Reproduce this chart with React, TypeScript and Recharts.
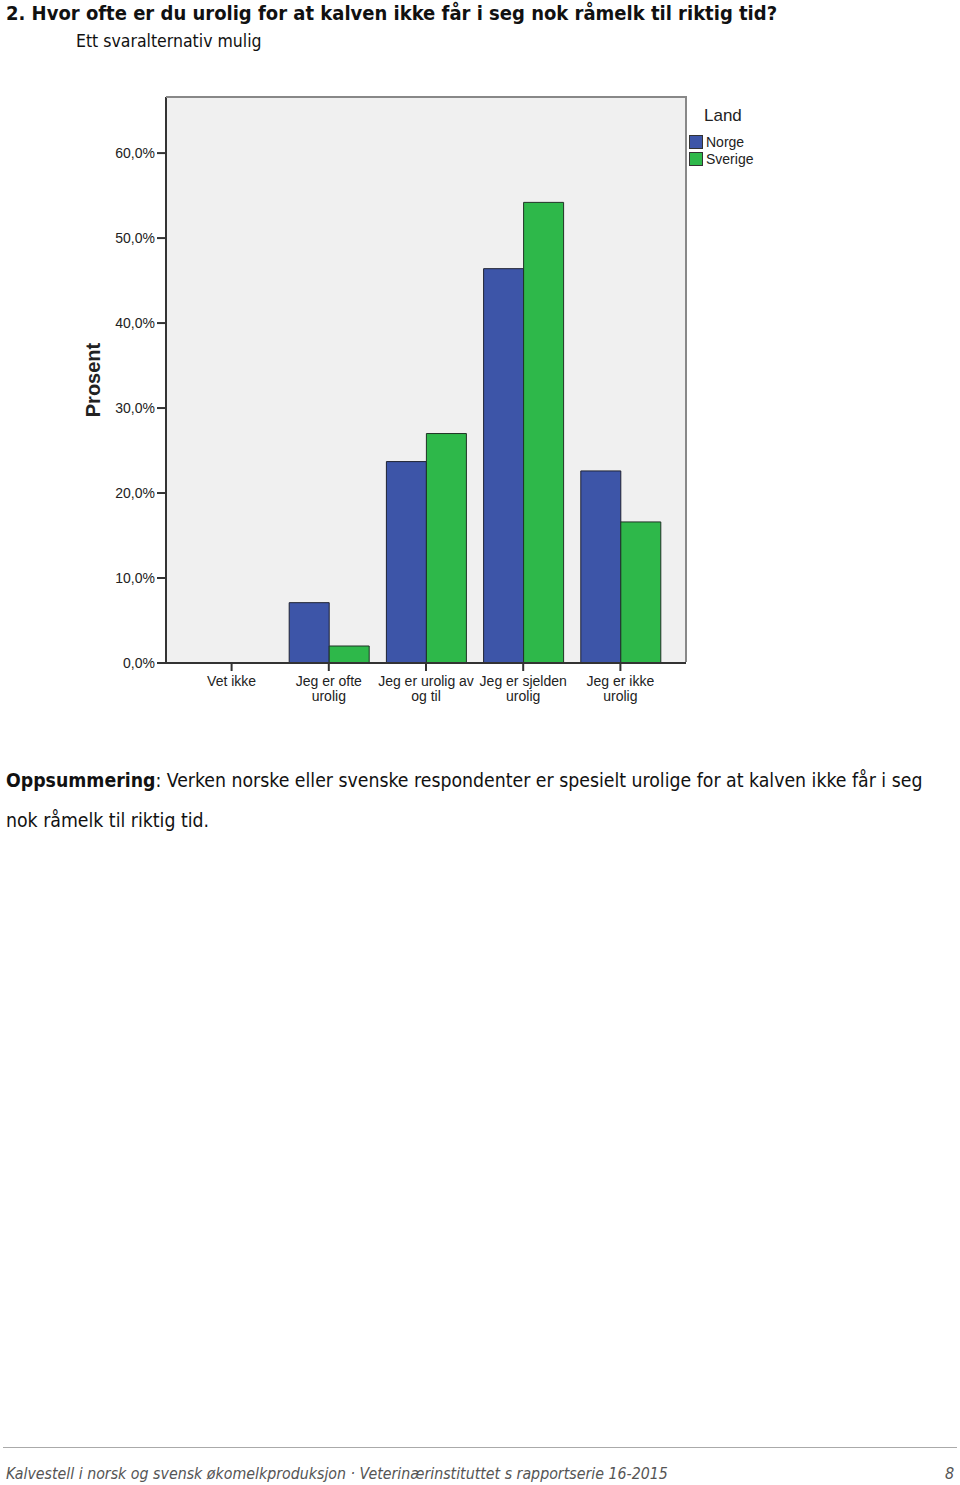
import React from "react";
import { BarChart, Bar, XAxis, YAxis, CartesianGrid } from "recharts";

const categories = [
  "Vet ikke",
  "Jeg er ofte\nurolig",
  "Jeg er urolig av\nog til",
  "Jeg er sjelden\nurolig",
  "Jeg er ikke\nurolig",
];
const norge = [0, 7.1, 23.7, 46.4, 22.6];
const sverige = [0, 2.0, 27.0, 54.2, 16.6];
const yTicks = [0, 10, 20, 30, 40, 50, 60];

const data = categories.map((name, i) => ({
  name,
  Norge: norge[i],
  Sverige: sverige[i],
}));

const docFont = "'DejaVu Sans Condensed', 'DejaVu Sans', sans-serif";
const chartFont = "'Liberation Sans', Arial, sans-serif";

const fmt = (v: number) => `${v.toFixed(1).replace(".", ",")}%`;

function CategoryTick(props: any) {
  const { x, y, payload } = props;
  const lines = String(payload.value).split("\n");
  return (
    <g>
      <line x1={x} x2={x} y1={y - 8} y2={y} stroke="#333" strokeWidth={2} />
      {lines.map((l, i) => (
        <text
          key={i}
          x={x}
          y={y + 15 + i * 15}
          textAnchor="middle"
          fontSize={14}
          fontFamily={chartFont}
          fill="#222"
        >
          {l}
        </text>
      ))}
    </g>
  );
}

function LandLegend() {
  const items = [
    { name: "Norge", color: "#3d55a8" },
    { name: "Sverige", color: "#2eb84a" },
  ];
  return (
    <div style={{ position: "absolute", left: 689, top: 106, fontFamily: chartFont, color: "#222" }}>
      <div style={{ fontSize: 17, marginLeft: 15, height: 27 }}>Land</div>
      {items.map((it) => (
        <div
          key={it.name}
          style={{ display: "flex", alignItems: "center", height: 17, fontSize: 14 }}
        >
          <span
            style={{
              width: 12,
              height: 12,
              background: it.color,
              border: "1px solid #333",
              marginRight: 3,
            }}
          />
          {it.name}
        </div>
      ))}
    </div>
  );
}

export default function App() {
  return (
    <div
      style={{
        position: "absolute",
        left: 0,
        top: 0,
        width: 960,
        height: 1485,
        background: "#fff",
        fontFamily: docFont,
        color: "#111",
      }}
    >
      <div
        style={{
          position: "absolute",
          left: 6,
          top: 1,
          fontSize: 20,
          fontWeight: "bold",
          whiteSpace: "nowrap",
        }}
      >
        2. Hvor ofte er du urolig for at kalven ikke får i seg nok råmelk til riktig tid?
      </div>
      <div style={{ position: "absolute", left: 76, top: 31, fontSize: 17.5, whiteSpace: "nowrap" }}>
        Ett svaralternativ mulig
      </div>

      <div style={{ position: "absolute", left: 0, top: 81 }}>
        <BarChart
          width={780}
          height={640}
          data={data}
          barGap={0}
          barCategoryGap={17}
          margin={{ top: 16, right: 94, left: 0, bottom: 8 }}
        >
          <CartesianGrid fill="#f0f0f0" horizontal={false} vertical={false} />
          <XAxis
            dataKey="name"
            interval={0}
            height={50}
            padding={{ left: 17, right: 17 }}
            axisLine={{ stroke: "#333", strokeWidth: 2 }}
            tickLine={false}
            tick={<CategoryTick />}
          />
          <YAxis
            width={166}
            domain={[0, 66.6]}
            ticks={yTicks}
            tickFormatter={fmt}
            axisLine={{ stroke: "#333", strokeWidth: 2 }}
            tickLine={{ stroke: "#333", strokeWidth: 2 }}
            tickSize={9}
            tick={{ fontSize: 14, fontFamily: chartFont, fill: "#222" }}
            label={{
              value: "Prosent",
              angle: -90,
              position: "insideLeft",
              offset: 93,
              style: { fontSize: 20, fontWeight: "bold", fontFamily: chartFont, fill: "#222", textAnchor: "middle" },
            }}
          />
          <Bar dataKey="Norge" fill="#3d55a8" stroke="#1e2233" strokeWidth={1} barSize={40} isAnimationActive={false} />
          <Bar dataKey="Sverige" fill="#2eb84a" stroke="#1f3325" strokeWidth={1} barSize={40} isAnimationActive={false} />
        </BarChart>
      </div>
      {/* plot frame: top and right edges */}
      <div
        style={{
          position: "absolute",
          left: 166,
          top: 96,
          width: 519,
          height: 564,
          borderTop: "2px solid #888",
          borderRight: "2px solid #888",
          pointerEvents: "none",
        }}
      />
      <LandLegend />

      <div style={{ position: "absolute", left: 6, top: 761, fontSize: 19.3, lineHeight: "40px", whiteSpace: "nowrap" }}>
        <div>
          <b>Oppsummering</b>: Verken norske eller svenske respondenter er spesielt urolige for at kalven ikke får i seg
        </div>
        <div>nok råmelk til riktig tid.</div>
      </div>

      <div style={{ position: "absolute", left: 3, width: 954, top: 1447, borderTop: "1px solid #aaa" }} />
      <div
        style={{
          position: "absolute",
          left: 6,
          top: 1464,
          fontSize: 15.8,
          fontStyle: "italic",
          color: "#555",
          whiteSpace: "nowrap",
        }}
      >
        Kalvestell i norsk og svensk økomelkproduksjon · Veterinærinstituttet s rapportserie 16-2015
      </div>
      <div style={{ position: "absolute", left: 945, top: 1464, fontSize: 16, fontStyle: "italic", color: "#555" }}>
        8
      </div>
    </div>
  );
}
